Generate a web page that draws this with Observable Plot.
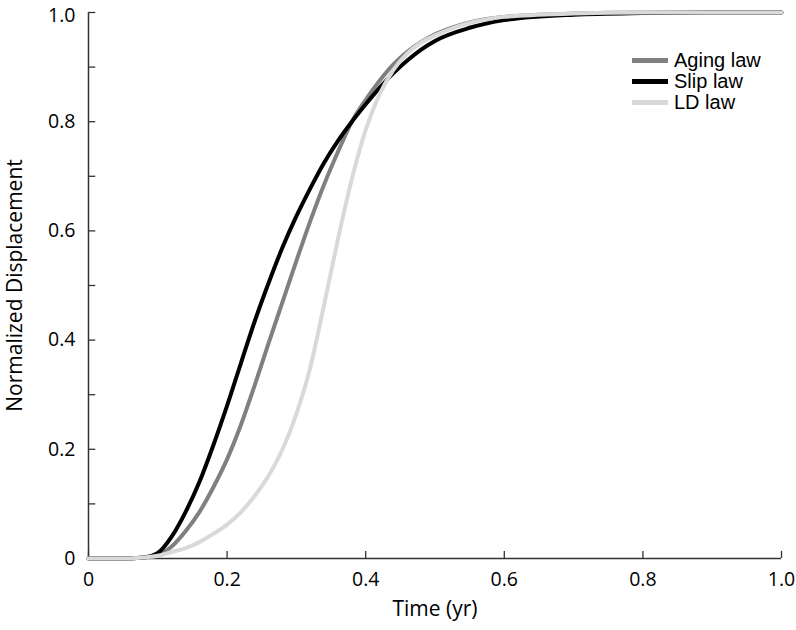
<!DOCTYPE html>
<html>
<head>
<meta charset="utf-8">
<script src="https://cdn.jsdelivr.net/npm/d3@7"></script>
<script src="https://cdn.jsdelivr.net/npm/@observablehq/plot@0.6"></script>
<style>
  html, body { margin: 0; padding: 0; background: #fff; }
  #wrap { position: relative; width: 796px; height: 630px; }
  #legend { position: absolute; left: 632px; top: 50px; font-family: "Liberation Sans", Arial, sans-serif; font-size: 20px; color: #000; }
  #legend .row { display: flex; align-items: center; height: 21px; }
  #legend .sw { width: 36px; height: 4.5px; margin-right: 6px; }
</style>
</head>
<body>
<div id="wrap"><div id="legend"></div></div>
<script>
// Time (yr)
const time = [0, 0.05, 0.08, 0.1, 0.12, 0.14, 0.16, 0.18, 0.2, 0.22, 0.24, 0.26, 0.28, 0.3, 0.32, 0.34, 0.36, 0.38, 0.4, 0.42, 0.44, 0.46, 0.48, 0.5, 0.55, 0.6, 0.7, 0.8, 0.9, 1.0];
// Normalized displacement per law
const agingLaw = [0, 0, 0.002, 0.006, 0.022, 0.05, 0.085, 0.13, 0.182, 0.245, 0.318, 0.395, 0.47, 0.545, 0.618, 0.685, 0.745, 0.8, 0.84, 0.875, 0.905, 0.928, 0.946, 0.96, 0.982, 0.992, 0.998, 1, 1, 1];
const slipLaw  = [0, 0, 0.002, 0.01, 0.04, 0.085, 0.14, 0.207, 0.28, 0.358, 0.435, 0.505, 0.57, 0.627, 0.678, 0.725, 0.765, 0.8, 0.832, 0.862, 0.889, 0.912, 0.932, 0.948, 0.972, 0.986, 0.996, 0.999, 1, 1];
const ldLaw    = [0, 0, 0.002, 0.005, 0.012, 0.019, 0.03, 0.045, 0.062, 0.085, 0.115, 0.152, 0.2, 0.265, 0.35, 0.465, 0.585, 0.695, 0.785, 0.85, 0.895, 0.925, 0.945, 0.958, 0.981, 0.992, 0.998, 1, 1, 1];

const seriesNames = ["Aging law", "Slip law", "LD law"];
const seriesColors = ["#808080", "#000000", "#d9d9d9"];

const xTickVals = [0, 0.2, 0.4, 0.6, 0.8, 1.0];
const yTickVals = [0, 0.1, 0.2, 0.3, 0.4, 0.5, 0.6, 0.7, 0.8, 0.9, 1.0];
const yLabelVals = [0, 0.2, 0.4, 0.6, 0.8];
const yTopLabel = [1.0];

const data = [];
[agingLaw, slipLaw, ldLaw].forEach((vals, i) => {
  time.forEach((t, j) => data.push({series: seriesNames[i], t, v: vals[j]}));
});

const fmt = d => d === 0 ? "0" : d.toFixed(1);
const tickFont = '"Open Sans", "Noto Sans", sans-serif';

const chart = Plot.plot({
  width: 796,
  height: 630,
  marginLeft: 88,
  marginRight: 15,
  marginTop: 12,
  marginBottom: 72,
  style: {fontFamily: tickFont, background: "#fff", color: "#000", overflow: "visible"},
  x: {domain: [0, 1]},
  y: {domain: [0, 1]},
  color: {domain: seriesNames, range: seriesColors},
  marks: [
    Plot.ruleX([0], {stroke: "#333", strokeWidth: 1.5}),
    Plot.ruleY([0], {stroke: "#333", strokeWidth: 1.5}),
    Plot.ruleY(yTickVals, {y: d => d, x1: 0, x2: 0.0105, stroke: "#333", strokeWidth: 1.3}),
    Plot.ruleX(xTickVals, {x: d => d, y1: 0, y2: 0.013, stroke: "#333", strokeWidth: 1.3}),
    Plot.axisY({ticks: yLabelVals, tickSize: 0, tickPadding: 13, tickFormat: fmt, label: null, fontSize: 19.5, fill: "#000"}),
    Plot.axisY({ticks: yTopLabel, tickSize: 0, tickPadding: 13, tickFormat: fmt, label: null, fontSize: 19.5, fill: "#000", dy: 3}),
    Plot.axisX({ticks: xTickVals, tickSize: 0, tickPadding: 14, tickFormat: fmt, label: null, fontSize: 19.5, fill: "#000"}),
    Plot.text(["Time (yr)"], {frameAnchor: "bottom", dy: 57, fontSize: 21, fill: "#000"}),
    Plot.text(["Normalized Displacement"], {frameAnchor: "left", textAnchor: "middle", dx: -73, rotate: -90, fontSize: 21, fill: "#000"}),
    Plot.line(data, {x: "t", y: "v", z: "series", stroke: "series", strokeWidth: 4, curve: "monotone-x"})
  ]
});
document.getElementById("wrap").prepend(chart);

const legend = document.getElementById("legend");
seriesNames.forEach((name, i) => {
  const row = document.createElement("div");
  row.className = "row";
  const sw = document.createElement("div");
  sw.className = "sw";
  sw.style.background = seriesColors[i];
  const lab = document.createElement("span");
  lab.textContent = name;
  row.appendChild(sw);
  row.appendChild(lab);
  legend.appendChild(row);
});
</script>
</body>
</html>
